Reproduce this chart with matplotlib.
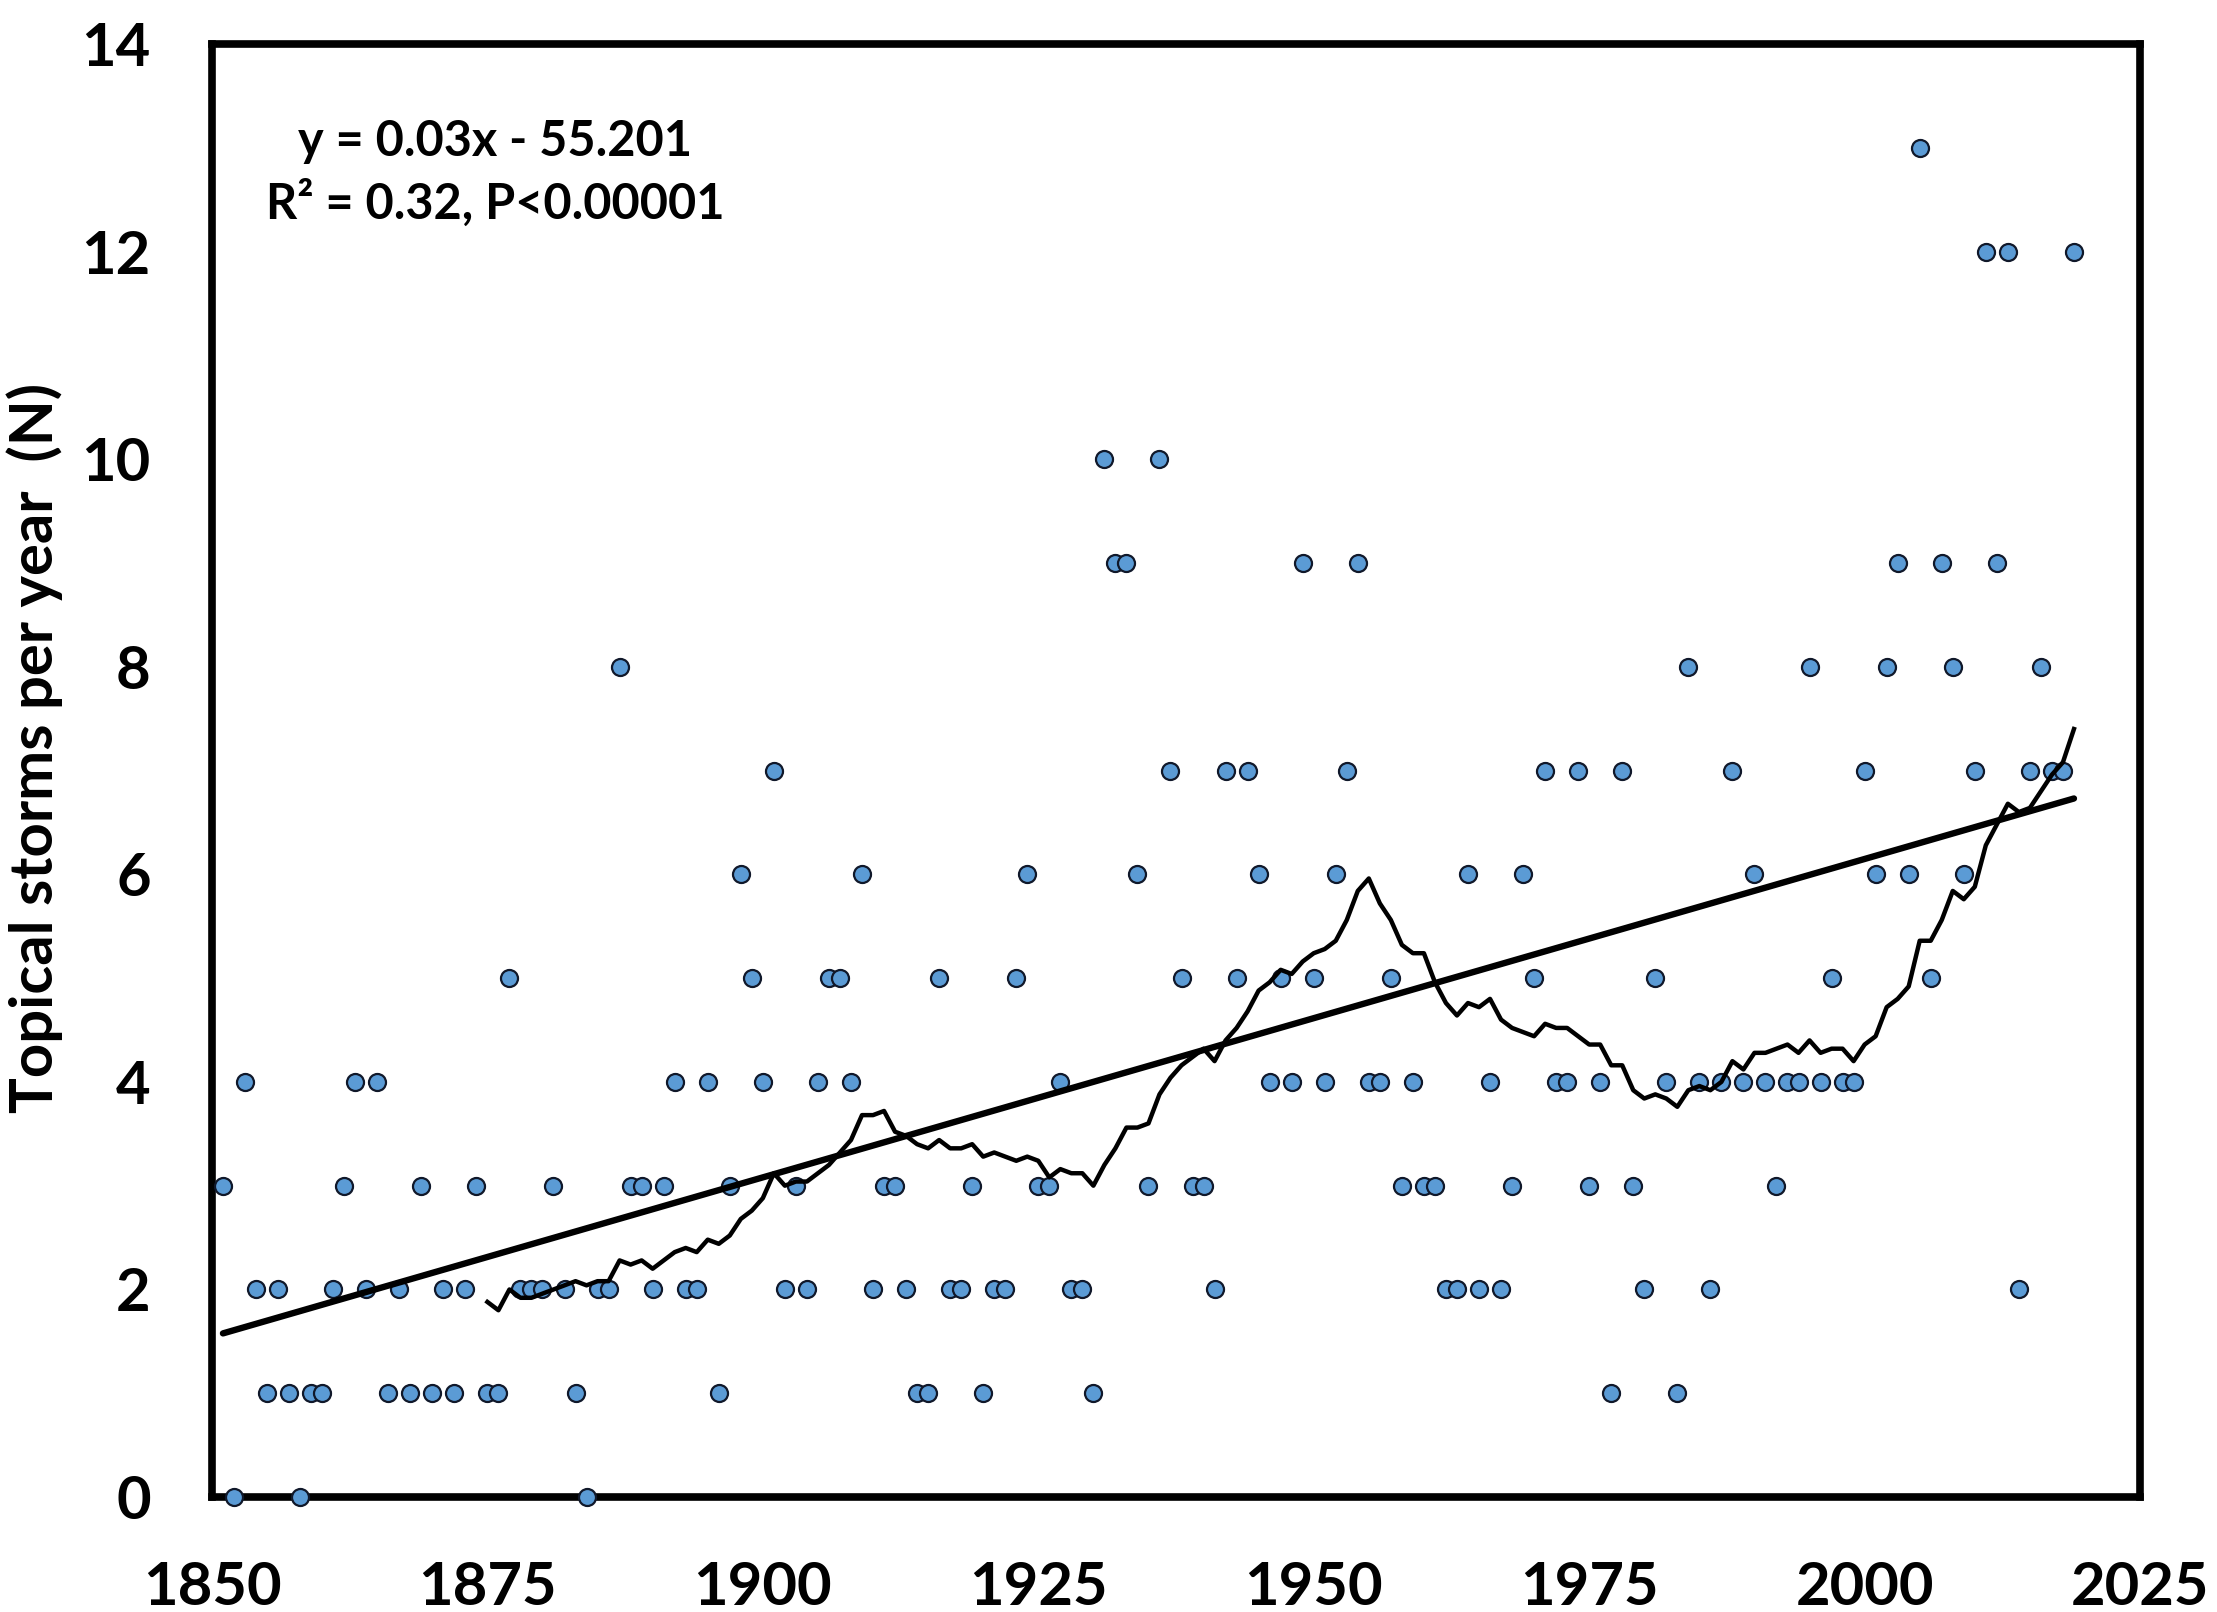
import numpy as np
import pandas as pd
import matplotlib
matplotlib.use("Agg")
import matplotlib.pyplot as plt

plt.rcParams['font.family'] = ['Lato', 'DejaVu Sans']
plt.rcParams['font.weight'] = 'bold'

# one value per year, 1851-2019
years = np.arange(1851, 2020)
storms = [
    3, 0, 4, 2, 1, 2, 1, 0, 1, 1,      # 1851-1860
    2, 3, 4, 2, 4, 1, 2, 1, 3, 1,      # 1861-1870
    2, 1, 2, 3, 1, 1, 5, 2, 2, 2,      # 1871-1880
    3, 2, 1, 0, 2, 2, 8, 3, 3, 2,      # 1881-1890
    3, 4, 2, 2, 4, 1, 3, 6, 5, 4,      # 1891-1900
    7, 2, 3, 2, 4, 5, 5, 4, 6, 2,      # 1901-1910
    3, 3, 2, 1, 1, 5, 2, 2, 3, 1,      # 1911-1920
    2, 2, 5, 6, 3, 3, 4, 2, 2, 1,      # 1921-1930
    10, 9, 9, 6, 3, 10, 7, 5, 3, 3,    # 1931-1940
    2, 7, 5, 7, 6, 4, 5, 4, 9, 5,      # 1941-1950
    4, 6, 7, 9, 4, 4, 5, 3, 4, 3,      # 1951-1960
    3, 2, 2, 6, 2, 4, 2, 3, 6, 5,      # 1961-1970
    7, 4, 4, 7, 3, 4, 1, 7, 3, 2,      # 1971-1980
    5, 4, 1, 8, 4, 2, 4, 7, 4, 6,      # 1981-1990
    4, 3, 4, 4, 8, 4, 5, 4, 4, 7,      # 1991-2000
    6, 8, 9, 6, 13, 5, 9, 8, 6, 7,     # 2001-2010
    12, 9, 12, 2, 7, 8, 7, 7, 12,      # 2011-2019
]

x_ticks = [1850, 1875, 1900, 1925, 1950, 1975, 2000, 2025]
y_ticks = [0, 2, 4, 6, 8, 10, 12, 14]
ma_period = 25

equation_text = "y = 0.03x - 55.201"
stats_text = "R\u00b2 = 0.32, P<0.00001"
y_label = "Topical storms per year  (N)"

# 25-yr moving average and linear trend, as in the original trendlines
series = pd.Series(storms, index=years)
moving_avg = series.rolling(ma_period).mean()
slope, intercept = np.polyfit(years, storms, 1)

fig = plt.figure(figsize=(22.17, 16.12), dpi=100)
ax = fig.add_axes([0.0956, 0.0713, 0.8697, 0.9014])

ax.scatter(years, storms, s=150, facecolor='#5b9bd5', edgecolor='#10182a',
           linewidth=1.6, zorder=3, clip_on=False)
ax.plot(moving_avg.index, moving_avg.values, color='black', lw=3.2, zorder=4)
trend_x = np.array([years[0], years[-1]])
ax.plot(trend_x, slope * trend_x + intercept, color='black', lw=4.6, zorder=4,
        solid_capstyle='round')

ax.set_xlim(1850, 2025)
ax.set_ylim(0, 14)
ax.set_xticks(x_ticks)
ax.set_yticks(y_ticks)
ax.tick_params(axis='both', length=0, labelsize=43)
ax.tick_params(axis='x', pad=46)
ax.tick_params(axis='y', pad=44)
for lab in ax.get_xticklabels() + ax.get_yticklabels():
    lab.set_fontweight('bold')

for sp in ax.spines.values():
    sp.set_linewidth(5.5)
    sp.set_color('black')

ax.text(0.147, 0.933, equation_text, transform=ax.transAxes, ha='center',
        va='center', fontsize=35, fontweight='bold')
ax.text(0.147, 0.891, stats_text, transform=ax.transAxes, ha='center',
        va='center', fontsize=35, fontweight='bold')

fig.text(0.0158, 0.536, y_label, rotation=90, ha='center', va='center',
         fontsize=43, fontweight='bold')

fig.savefig("out.png", dpi=100)
